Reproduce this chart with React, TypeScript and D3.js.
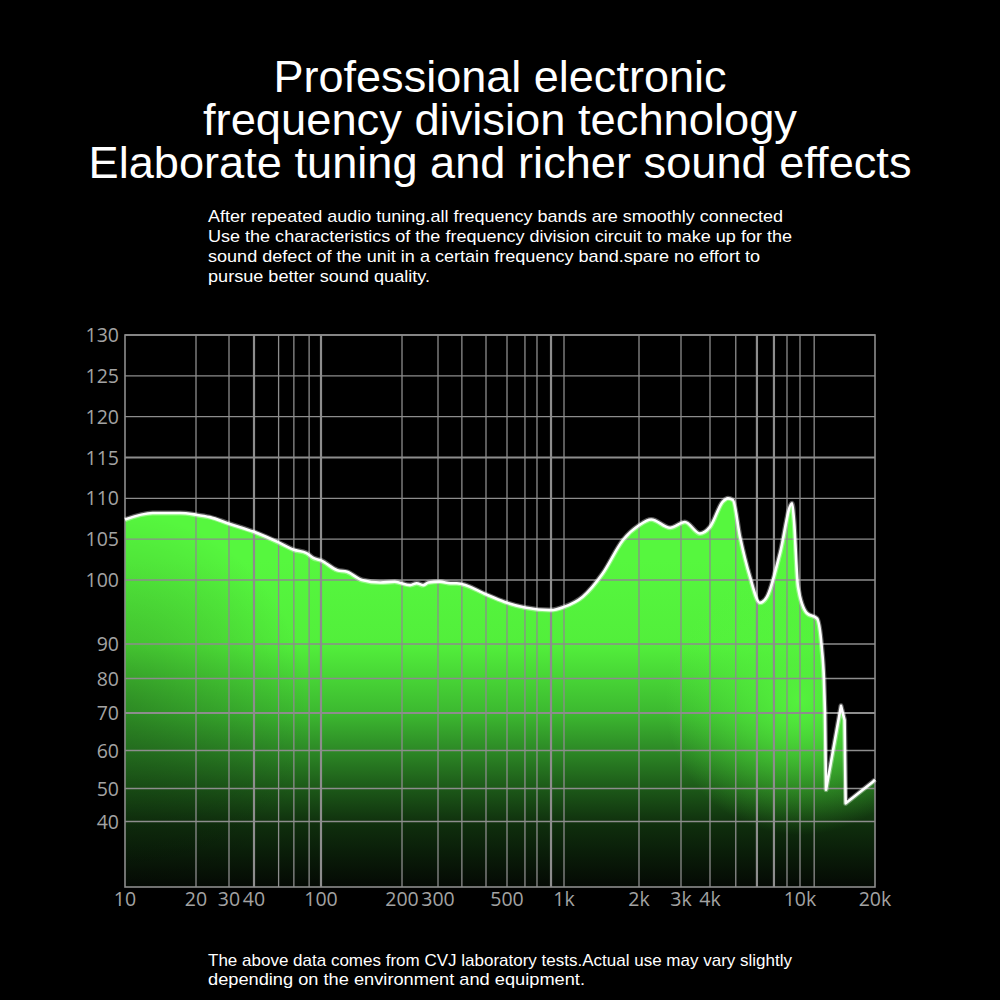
import React from "react";
import * as d3 from "d3";

// ---- text ----
const titleLines = [
  "Professional electronic",
  "frequency division technology",
  "Elaborate tuning and richer sound effects",
];
const subtitleLines = [
  "After repeated audio tuning.all frequency bands are smoothly connected",
  "Use the characteristics of the frequency division circuit to make up for the",
  "sound defect of the unit in a certain frequency band.spare no effort to",
  "pursue better sound quality.",
];
const footerLines = [
  "The above data comes from CVJ laboratory tests.Actual use may vary slightly",
  "depending on the environment and equipment.",
];

// ---- axes ----
const xTickValues = [10, 20, 30, 40, 100, 200, 300, 500, 1000, 2000, 3000, 4000, 10000, 20000];
const xTickLabels = ["10", "20", "30", "40", "100", "200", "300", "500", "1k", "2k", "3k", "4k", "10k", "20k"];
const xGridValues = [20, 30, 40, 56, 69, 85, 100, 200, 300, 358, 428, 500, 622, 720, 854, 1000, 2000, 3000, 4000, 5200, 6450, 7670, 8760, 10000, 11400];
const xGridThick = [40, 100, 854, 6450, 7670];
const yTickValues = [40, 50, 60, 70, 80, 90, 100, 105, 110, 115, 120, 125, 130];
const yGridThick = [70, 115];

// ---- frequency response (Hz, dB) ----
const freqs = [
  10, 13.1, 17.1, 20, 23.7, 30, 40, 56, 69, 82, 90, 100, 115, 125, 142, 166, 188, 219, 236, 254, 269,
  304, 329, 345, 431, 500, 622, 854, 1000, 1190, 1430, 1725, 2000, 2250, 2700, 3120, 3620, 4000,
  4560, 4800, 5050, 5430, 6010, 6650, 7150, 8160, 9230, 9410, 9800, 10670, 11700, 12220, 12480, 12600,
  12720, 14610, 15100, 15250, 19630, 20000,
];
const levels = [
  107.4, 108.2, 108.2, 108.0, 107.7, 106.9, 105.9, 104.6, 103.7, 103.3, 102.7, 102.4, 101.2, 101.0, 100.0, 99.6, 99.73, 99.2, 99.5, 99.2, 99.6,
  99.75, 99.5, 99.5, 97.7, 96.45, 95.7, 95.3, 95.8, 97.4, 100.8, 104.9, 106.7, 107.4, 106.4, 107.1, 105.7, 106.5,
  109.6, 110.0, 109.8, 105.3, 100.4, 96.45, 97.4, 103.3, 109.4, 107.3, 98.95, 94.8, 94.0, 89.2, 79.6, 70.0,
  49.6, 72.1, 68.1, 45.5, 51.8, 52.3,
];
const smoothUntil = 12600; // smooth part ends here; the rest is drawn with straight segments

export default function App() {
  const left = 125, right = 875, top = 335, bottom = 887;

  const x = d3
    .scaleLog()
    .domain(xTickValues)
    .range([125, 196, 229, 254, 321, 402, 438, 507, 564, 639, 681, 710, 800, 875]);
  const y = d3
    .scaleLinear()
    .domain([20, 40, 50, 60, 70, 80, 90, 100, 130])
    .range([887, 821.5, 788.5, 750.5, 713, 678.5, 644, 580, 335]);

  const pts = freqs.map((f, i) => [f, levels[i]] as [number, number]);
  const smoothPts = pts.filter((p) => p[0] <= smoothUntil);
  const linePts = pts.filter((p) => p[0] >= smoothUntil);

  const smoothLine = d3
    .line<[number, number]>()
    .x((d) => x(d[0]))
    .y((d) => y(d[1]))
    .curve(d3.curveMonotoneX);
  const straightLine = d3
    .line<[number, number]>()
    .x((d) => x(d[0]))
    .y((d) => y(d[1]))
    .curve(d3.curveLinear);

  const curvePath = (smoothLine(smoothPts) || "") + (straightLine(linePts) || "").replace(/^M/, "L");
  const areaPath = curvePath + `L${x(20000)},${bottom}L${x(10)},${bottom}Z`;

  const gridColor = "#8d8d8d";
  const labelColor = "#a3a3a3";
  const titleFont = "'Liberation Sans Narrow', 'Liberation Sans', Arial, sans-serif";
  const axisFont = "'Open Sans', 'Noto Sans', sans-serif";

  const titleWidths = [453, 594, 823];
  const subWidths = [575, 584, 552, 222];
  const footWidths = [584, 377];

  return (
    <div style={{ position: "fixed", left: 0, top: 0, width: 1000, height: 1000, background: "#000" }}>
      <svg width={1000} height={1000} viewBox="0 0 1000 1000" style={{ display: "block" }}>
        <defs>
          <clipPath id="areaClip">
            <path d={areaPath} />
          </clipPath>
          <linearGradient id="baseGrad" gradientUnits="userSpaceOnUse" x1={0} y1={560} x2={0} y2={887}>
            <stop offset="0" stopColor="#56f73e" />
            <stop offset="0.26" stopColor="#52ef3b" />
            <stop offset="0.47" stopColor="#3cb830" />
            <stop offset="0.58" stopColor="#2d8a26" />
            <stop offset="0.70" stopColor="#1c5818" />
            <stop offset="0.81" stopColor="#0f2e0d" />
            <stop offset="1" stopColor="#040904" />
          </linearGradient>
          <radialGradient id="blobGrad" gradientUnits="userSpaceOnUse" cx={800} cy={700} r={135}>
            <stop offset="0" stopColor="#56f73e" stopOpacity={0.9} />
            <stop offset="0.55" stopColor="#56f73e" stopOpacity={0.4} />
            <stop offset="1" stopColor="#56f73e" stopOpacity={0} />
          </radialGradient>
          <radialGradient id="shadeGrad" gradientUnits="userSpaceOnUse" cx={110} cy={710} r={200}>
            <stop offset="0" stopColor="#000" stopOpacity={0.28} />
            <stop offset="1" stopColor="#000" stopOpacity={0} />
          </radialGradient>
        </defs>

        <rect x={0} y={0} width={1000} height={1000} fill="#000" />

        {/* titles */}
        {titleLines.map((t, i) => (
          <text
            key={"t" + i}
            x={500}
            y={92 + i * 43}
            textAnchor="middle"
            fill="#fff"
            fontFamily={titleFont}
            fontSize={44}
            textLength={titleWidths[i]}
            lengthAdjust="spacingAndGlyphs"
          >
            {t}
          </text>
        ))}
        {subtitleLines.map((t, i) => (
          <text
            key={"s" + i}
            x={208}
            y={222 + i * 20}
            fill="#fff"
            fontFamily={titleFont}
            fontSize={17}
            textLength={subWidths[i]}
            lengthAdjust="spacingAndGlyphs"
          >
            {t}
          </text>
        ))}
        {footerLines.map((t, i) => (
          <text
            key={"f" + i}
            x={208}
            y={966 + i * 18.5}
            fill="#fff"
            fontFamily={titleFont}
            fontSize={17}
            textLength={footWidths[i]}
            lengthAdjust="spacingAndGlyphs"
          >
            {t}
          </text>
        ))}

        {/* fill */}
        <g clipPath="url(#areaClip)">
          <rect x={left} y={top} width={right - left} height={bottom - top} fill="url(#baseGrad)" />
          <rect x={left} y={top} width={right - left} height={bottom - top} fill="url(#blobGrad)" />
          <rect x={left} y={top} width={right - left} height={bottom - top} fill="url(#shadeGrad)" />
        </g>

        {/* grid */}
        {yTickValues.map((v) => (
          <line
            key={"hy" + v}
            x1={left}
            x2={right}
            y1={y(v)}
            y2={y(v)}
            stroke={gridColor}
            strokeWidth={yGridThick.includes(v) ? 2.2 : 1.3}
          />
        ))}
        {xGridValues.map((v) => (
          <line
            key={"vx" + v}
            x1={x(v)}
            x2={x(v)}
            y1={top}
            y2={bottom}
            stroke={gridColor}
            strokeWidth={xGridThick.includes(v) ? 2.2 : 1.3}
          />
        ))}
        <rect x={left} y={top} width={right - left} height={bottom - top} fill="none" stroke={gridColor} strokeWidth={1.6} />

        {/* curve */}
        <path d={curvePath} fill="none" stroke="#ffffff" strokeOpacity={0.35} strokeWidth={5} strokeLinejoin="round" />
        <path d={curvePath} fill="none" stroke="#ffffff" strokeWidth={2.6} strokeLinejoin="round" />

        {/* axis labels */}
        {yTickValues.map((v) => (
          <text
            key={"yl" + v}
            x={119}
            y={y(v)}
            dy="0.36em"
            textAnchor="end"
            fill={labelColor}
            fontFamily={axisFont}
            fontSize={19.5}
          >
            {v}
          </text>
        ))}
        {xTickValues.map((v, i) => (
          <text
            key={"xl" + v}
            x={x(v)}
            y={906}
            textAnchor="middle"
            fill={labelColor}
            fontFamily={axisFont}
            fontSize={19.5}
          >
            {xTickLabels[i]}
          </text>
        ))}
      </svg>
    </div>
  );
}
